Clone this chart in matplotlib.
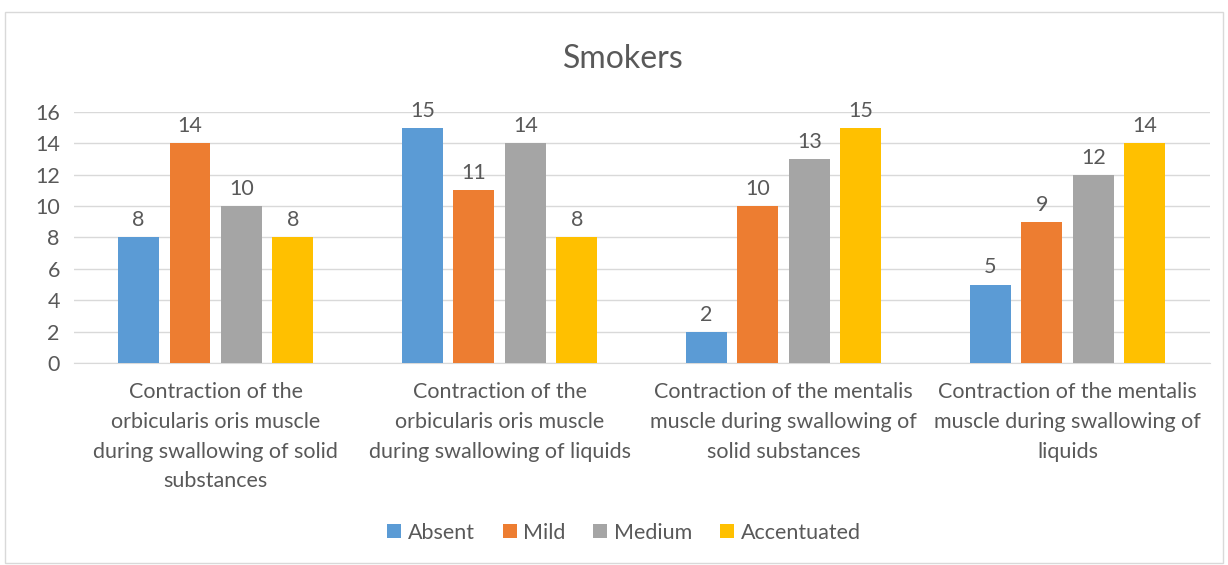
import matplotlib.pyplot as plt
import numpy as np

categories = [
    'Contraction of the\norbicularis oris muscle\nduring swallowing of solid\nsubstances',
    'Contraction of the\norbicularis oris muscle\nduring swallowing of liquids',
    'Contraction of the mentalis\nmuscle during swallowing of\nsolid substances',
    'Contraction of the mentalis\nmuscle during swallowing of\nliquids',
]
series_names = ['Absent', 'Mild', 'Medium', 'Accentuated']
absent = [8, 15, 2, 5]
mild = [14, 11, 10, 9]
medium = [10, 14, 13, 12]
accentuated = [8, 8, 15, 14]
colors = ['#5B9BD5', '#ED7D31', '#A5A5A5', '#FFC000']

plt.rcParams['font.family'] = ['Lato', 'DejaVu Sans']
text_color = '#595959'
fs = 15.5

fig = plt.figure(figsize=(12.28, 5.65), dpi=100)
ax = fig.add_axes([0.060, 0.3575, 0.925, 0.4445])

x = np.arange(len(categories))
width = 0.144
step = 0.181
all_series = [absent, mild, medium, accentuated]
for i, (name, vals, c) in enumerate(zip(series_names, all_series, colors)):
    pos = x + (i - 1.5) * step
    bars = ax.bar(pos, vals, width, color=c, label=name, zorder=3)
    for b, v in zip(bars, vals):
        ax.text(b.get_x() + b.get_width() / 2, v + 0.45, str(v),
                ha='center', va='bottom', fontsize=fs, color=text_color)

ax.set_xlim(-0.5, 3.5)
ax.set_ylim(0, 16)
ax.set_yticks(range(0, 17, 2))
ax.yaxis.grid(True, color='#D9D9D9', linewidth=1, zorder=0)
ax.set_xticks(x)
ax.set_xticklabels(categories, fontsize=fs, color=text_color, linespacing=1.6)
ax.tick_params(axis='y', length=0, labelsize=fs, labelcolor=text_color, pad=10)
ax.tick_params(axis='x', length=0, pad=14)
for s in ['top', 'right', 'left']:
    ax.spines[s].set_visible(False)
ax.spines['bottom'].set_color('#D9D9D9')

fig.text(0.508, 0.895, 'Smokers', ha='center', va='center', fontsize=23, color=text_color)

fig.legend(loc='center', bbox_to_anchor=(0.508, 0.057), ncol=4, frameon=False,
           fontsize=fs, handlelength=0.65, handleheight=0.65, handletextpad=0.3,
           columnspacing=1.3, labelcolor=text_color)

border = plt.Rectangle((0.004, 0.004), 0.992, 0.975, transform=fig.transFigure,
                       fill=False, edgecolor='#D9D9D9', linewidth=1)
fig.patches.append(border)

fig.savefig('out.png', dpi=100)
